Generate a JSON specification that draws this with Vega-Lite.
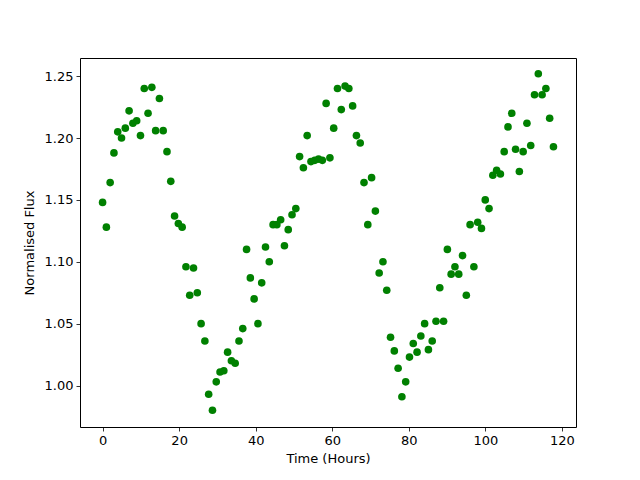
{
  "$schema": "https://vega.github.io/schema/vega-lite/v6.json",
  "autosize": "none",
  "width": 496,
  "height": 369,
  "padding": {"left": 80, "top": 58, "right": 64, "bottom": 53},
  "background": "white",
  "config": {
    "view": {"stroke": "black", "strokeWidth": 1},
    "font": "DejaVu Sans",
    "axis": {
      "domain": false,
      "grid": false,
      "tickColor": "black",
      "tickSize": 4,
      "tickWidth": 0.8,
      "labelColor": "black",
      "labelFont": "DejaVu Sans",
      "labelFontSize": 13,
      "labelPadding": 3,
      "titleFont": "DejaVu Sans",
      "titleFontSize": 13,
      "titleFontWeight": "normal",
      "titleColor": "black"
    }
  },
  "data": {"values": [
    {"t": 0.0, "f": 1.148}, {"t": 0.99, "f": 1.128}, {"t": 1.98, "f": 1.164}, {"t": 2.97, "f": 1.188}, {"t": 3.96, "f": 1.205},
    {"t": 4.95, "f": 1.2}, {"t": 5.94, "f": 1.208}, {"t": 6.93, "f": 1.222}, {"t": 7.92, "f": 1.212}, {"t": 8.91, "f": 1.214},
    {"t": 9.9, "f": 1.202}, {"t": 10.89, "f": 1.24}, {"t": 11.88, "f": 1.22}, {"t": 12.87, "f": 1.241}, {"t": 13.86, "f": 1.206},
    {"t": 14.85, "f": 1.232}, {"t": 15.84, "f": 1.206}, {"t": 16.83, "f": 1.189}, {"t": 17.82, "f": 1.165}, {"t": 18.81, "f": 1.137},
    {"t": 19.8, "f": 1.131}, {"t": 20.79, "f": 1.128}, {"t": 21.78, "f": 1.096}, {"t": 22.77, "f": 1.073}, {"t": 23.76, "f": 1.095},
    {"t": 24.75, "f": 1.075}, {"t": 25.74, "f": 1.05}, {"t": 26.73, "f": 1.036}, {"t": 27.72, "f": 0.993}, {"t": 28.71, "f": 0.98},
    {"t": 29.7, "f": 1.003}, {"t": 30.69, "f": 1.011}, {"t": 31.68, "f": 1.012}, {"t": 32.67, "f": 1.027}, {"t": 33.66, "f": 1.02},
    {"t": 34.65, "f": 1.018}, {"t": 35.64, "f": 1.036}, {"t": 36.63, "f": 1.046}, {"t": 37.62, "f": 1.11}, {"t": 38.61, "f": 1.087},
    {"t": 39.6, "f": 1.07}, {"t": 40.59, "f": 1.05}, {"t": 41.58, "f": 1.083}, {"t": 42.57, "f": 1.112}, {"t": 43.56, "f": 1.1},
    {"t": 44.55, "f": 1.13}, {"t": 45.54, "f": 1.13}, {"t": 46.53, "f": 1.134}, {"t": 47.52, "f": 1.113}, {"t": 48.51, "f": 1.126},
    {"t": 49.5, "f": 1.138}, {"t": 50.49, "f": 1.143}, {"t": 51.48, "f": 1.185}, {"t": 52.47, "f": 1.176}, {"t": 53.46, "f": 1.202},
    {"t": 54.45, "f": 1.181}, {"t": 55.44, "f": 1.182}, {"t": 56.43, "f": 1.183}, {"t": 57.42, "f": 1.182}, {"t": 58.41, "f": 1.228},
    {"t": 59.4, "f": 1.184}, {"t": 60.39, "f": 1.208}, {"t": 61.38, "f": 1.24}, {"t": 62.37, "f": 1.223}, {"t": 63.36, "f": 1.242},
    {"t": 64.35, "f": 1.24}, {"t": 65.34, "f": 1.226}, {"t": 66.33, "f": 1.202}, {"t": 67.32, "f": 1.196}, {"t": 68.31, "f": 1.164},
    {"t": 69.3, "f": 1.13}, {"t": 70.29, "f": 1.168}, {"t": 71.28, "f": 1.141}, {"t": 72.27, "f": 1.091}, {"t": 73.26, "f": 1.1},
    {"t": 74.25, "f": 1.077}, {"t": 75.24, "f": 1.039}, {"t": 76.23, "f": 1.028}, {"t": 77.22, "f": 1.014}, {"t": 78.21, "f": 0.991},
    {"t": 79.2, "f": 1.003}, {"t": 80.19, "f": 1.023}, {"t": 81.18, "f": 1.034}, {"t": 82.17, "f": 1.027}, {"t": 83.16, "f": 1.04},
    {"t": 84.15, "f": 1.05}, {"t": 85.14, "f": 1.029}, {"t": 86.13, "f": 1.036}, {"t": 87.12, "f": 1.052}, {"t": 88.11, "f": 1.079},
    {"t": 89.1, "f": 1.052}, {"t": 90.09, "f": 1.11}, {"t": 91.08, "f": 1.09}, {"t": 92.07, "f": 1.096}, {"t": 93.06, "f": 1.09},
    {"t": 94.05, "f": 1.105}, {"t": 95.04, "f": 1.073}, {"t": 96.03, "f": 1.13}, {"t": 97.02, "f": 1.096}, {"t": 98.01, "f": 1.132},
    {"t": 99.0, "f": 1.127}, {"t": 99.99, "f": 1.15}, {"t": 100.98, "f": 1.143}, {"t": 101.97, "f": 1.17}, {"t": 102.96, "f": 1.174},
    {"t": 103.95, "f": 1.171}, {"t": 104.94, "f": 1.189}, {"t": 105.93, "f": 1.209}, {"t": 106.92, "f": 1.22}, {"t": 107.91, "f": 1.191},
    {"t": 108.9, "f": 1.173}, {"t": 109.89, "f": 1.189}, {"t": 110.88, "f": 1.212}, {"t": 111.87, "f": 1.194}, {"t": 112.86, "f": 1.235},
    {"t": 113.85, "f": 1.252}, {"t": 114.84, "f": 1.235}, {"t": 115.83, "f": 1.24}, {"t": 116.82, "f": 1.216}, {"t": 117.81, "f": 1.193}
  ]},
  "mark": {"type": "point", "filled": true, "shape": "circle", "size": 58, "color": "#008000", "opacity": 1},
  "encoding": {
    "x": {
      "field": "t", "type": "quantitative",
      "scale": {"domain": [-5.9, 123.7], "nice": false, "zero": false},
      "axis": {"title": "Time (Hours)", "values": [0, 20, 40, 60, 80, 100, 120], "format": "d", "titlePadding": 5}
    },
    "y": {
      "field": "f", "type": "quantitative",
      "scale": {"domain": [0.9665, 1.2647], "nice": false, "zero": false},
      "axis": {"title": "Normalised Flux", "values": [1.0, 1.05, 1.1, 1.15, 1.2, 1.25], "format": ".2f", "titlePadding": 8}
    }
  }
}
